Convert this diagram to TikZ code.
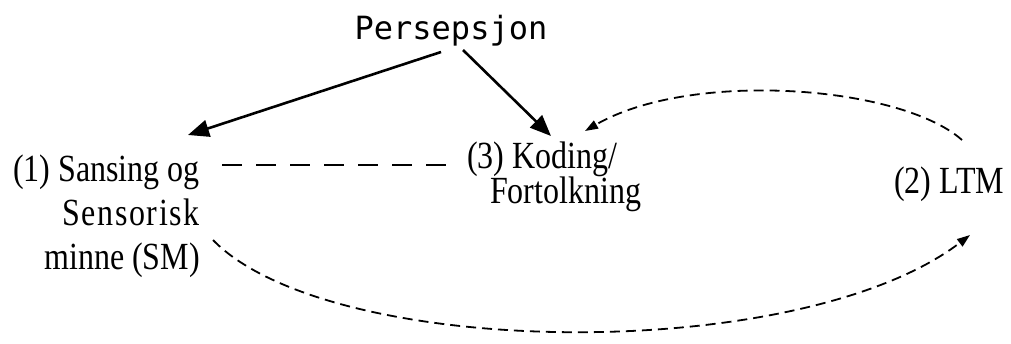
\documentclass[tikz,border=0pt]{standalone}
\usepackage{fontspec}
\usepackage{graphicx}
\setmainfont{Liberation Serif}
\newfontfamily\persfont{DejaVu Sans Mono}
\newfontfamily\spacedserif[LetterSpace=5]{Liberation Serif}
\newcommand\tallline[1]{\scalebox{1}[1.2]{#1}}
\usetikzlibrary{arrows.meta}
\lineskiplimit=-50pt
\begin{document}
\begin{tikzpicture}[x=1pt,y=-1pt,
  lbl/.style={inner sep=0pt, font=\fontsize{32}{44}\selectfont},
  thickarrow/.style={line width=2.6pt, -{Triangle[length=21pt,width=17pt]}},
  dashline/.style={line width=2.8pt, dash pattern=on 20pt off 14pt},
  thinarrow/.style={line width=1.8pt, dash pattern=on 10pt off 6pt, -{Triangle[length=13pt,width=9pt]}}]
\useasboundingbox (0,0) rectangle (1011,343);
\node[inner sep=0pt, font=\persfont\fontsize{32}{36}\selectfont, anchor=base] (pers) at (451,39) {Persepsjon};
\node[lbl, align=right, anchor=base east] (sm) at (200,269) {\tallline{(1) Sansing og}\\\tallline{\spacedserif Sensorisk}\\\tallline{minne (SM)}};
\node[lbl, font=\fontsize{32}{35}\selectfont, align=left, anchor=base west] (kod) at (467,203) {\tallline{(3) Koding/}\\\hspace*{23pt}\tallline{Fortolkning}};
\node[lbl, anchor=base west] (ltm) at (894,193) {\tallline{(2) LTM}};
\coordinate (pl) at (441,52);
\coordinate (pr) at (463,50);
\coordinate (smtip) at (188,135);
\coordinate (kodtip) at (551,136);
\coordinate (dashs) at (222,165);
\coordinate (dashe) at (447,165);
\coordinate (ltmtop) at (962,140);
\coordinate (kodin) at (585,131);
\coordinate (smout) at (213,240);
\coordinate (ltmin) at (970,235);
\draw[thickarrow] (pl) -- (smtip);
\draw[thickarrow] (pr) -- (kodtip);
\draw[dashline] (dashs) -- (dashe);
\draw[thinarrow] (ltmtop) .. controls (900,85) and (690,70) .. (kodin);
\draw[thinarrow] (smout) .. controls (330,360) and (800,365) .. (ltmin);
\end{tikzpicture}
\end{document}
